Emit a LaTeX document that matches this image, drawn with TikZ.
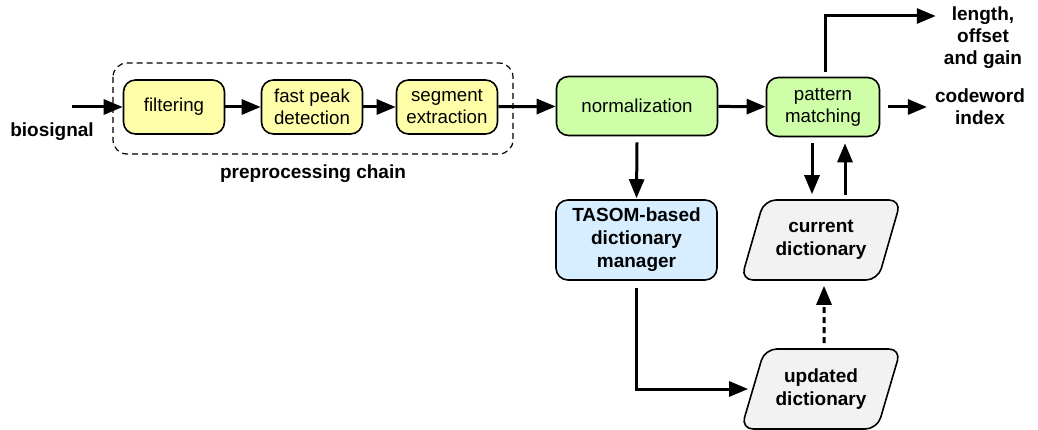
\documentclass[tikz,border=0pt]{standalone}
\usepackage{fontspec}
\setmainfont{Liberation Sans}
\usetikzlibrary{arrows.meta,shapes.geometric}
\definecolor{yel}{RGB}{255,255,170}
\definecolor{grn}{RGB}{206,255,168}
\definecolor{blu}{RGB}{214,238,255}
\definecolor{gry}{RGB}{242,242,242}
\tikzset{
  base/.style={draw=black, line width=1.6pt, rounded corners=12pt, align=center, inner sep=0pt,
    font=\fontsize{18.7}{22}\selectfont},
  ybox/.style={base, fill=yel, minimum width=101pt, minimum height=54pt},
  gbox/.style={base, fill=grn, minimum height=59pt},
  bbox/.style={base, fill=blu, minimum width=161pt, minimum height=80pt, font=\fontsize{19}{23}\selectfont\bfseries},
  dbox/.style={base, fill=gry, trapezium, trapezium left angle=65, trapezium right angle=115,
    trapezium stretches=true, minimum width=160pt, minimum height=80pt, font=\fontsize{19}{23}\selectfont\bfseries},
  lbl/.style={align=center, inner sep=0pt, font=\fontsize{19}{22}\selectfont\bfseries},
  arr/.style={line width=3pt, -{Triangle[length=19pt,width=15pt]}},
}
\begin{document}
\begin{tikzpicture}[x=1pt,y=-1pt]
\useasboundingbox (0,0) rectangle (1038,430);
% preprocessing container
\draw[line width=1.2pt, dash pattern=on 6pt off 4pt, rounded corners=14pt] (113,63) rectangle (513,154);
\node[lbl] (pre) at (313,174) {preprocessing chain};
\node[ybox] (filt) at (174,107) {filtering};
\node[ybox] (peak) at (312,107) {fast peak\\detection};
\node[ybox] (seg) at (447,107) {segment\\extraction};
\node[lbl] (bio) at (52,132) {biosignal};
\coordinate (bioin) at (72,107);
\node[gbox, minimum width=161pt] (norm) at (637,106) {normalization};
\node[gbox, minimum width=113pt] (pm) at (823,107) {pattern\\matching};
\node[lbl] (cw) at (980,107) {codeword\\index};
\node[lbl] (log) at (983,38) {length,\\offset\\and gain};
\coordinate (up) at (825,16);
\node[bbox] (tasom) at (636.5,240) {TASOM-based\\dictionary\\manager};
\node[dbox] (cur) at (821,240) {current\\dictionary};
\node[dbox] (upd) at (821,389) {updated\\dictionary};
% connectors
\draw[arr] (bioin) -- (filt.west);
\draw[arr] (filt) -- (peak);
\draw[arr] (peak) -- (seg);
\draw[arr] (seg) -- (norm);
\draw[arr] (norm) -- (pm);
\draw[arr] ([xshift=8pt]pm.east) -- ([xshift=-8pt]cw.west |- pm.east);
\draw[arr] ([xshift=2pt,yshift=5pt]pm.north) -- (up) -- ([xshift=-8pt]log.west |- up);
\draw[arr] ([yshift=-6pt]norm.south) -- ([yshift=1pt]tasom.north);
\draw[arr] ([xshift=-11pt,yshift=-6pt]pm.south) -- ([xshift=-11pt,yshift=5pt]pm.south |- cur.north);
\draw[arr] ([xshift=22pt,yshift=4pt]pm.south |- cur.north) -- ([xshift=22pt,yshift=-6pt]pm.south);
\draw[arr, dash pattern=on 6pt off 4pt] ([xshift=3pt,yshift=5pt]upd.north) -- ([xshift=3pt,yshift=-5pt]cur.south);
\draw[arr] ([yshift=-7pt]tasom.south) |- ([xshift=-4pt]upd.west);
\end{tikzpicture}
\end{document}
